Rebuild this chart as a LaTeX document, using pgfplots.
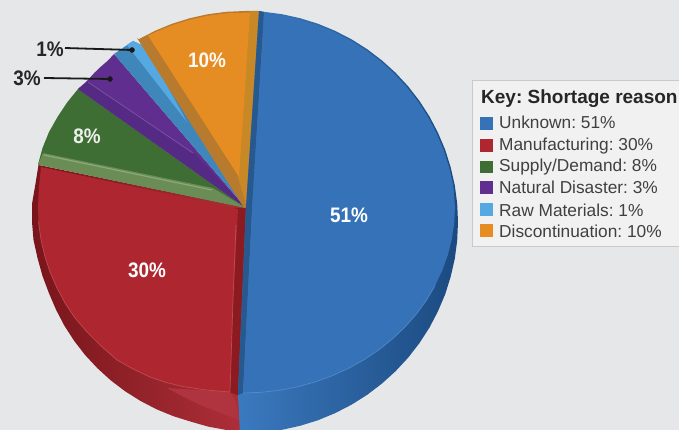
\documentclass[border=0pt]{standalone}
\usepackage{pgfplots}
\pgfplotsset{compat=1.18}
\usepackage{fontspec}
\setmainfont{Liberation Sans}
\frenchspacing
\definecolor{bg}{HTML}{E6E7E9}
\definecolor{boxf}{HTML}{F1F1F1}
\definecolor{boxd}{HTML}{C9CACC}
\definecolor{blu}{HTML}{3672B8}
\definecolor{bluS}{HTML}{27598F}
\definecolor{bluL}{HTML}{3B79BF}
\definecolor{bluM}{HTML}{3570B3}
\definecolor{bluD}{HTML}{1B4A80}
\definecolor{bluH}{HTML}{5F96D2}
\definecolor{red}{HTML}{AE2730}
\definecolor{redS}{HTML}{8B1B21}
\definecolor{redD}{HTML}{78151B}
\definecolor{redL}{HTML}{AE2F39}
\definecolor{redH}{HTML}{B0343F}
\definecolor{redE}{HTML}{CC5A62}
\definecolor{grn}{HTML}{3F6E35}
\definecolor{grnS}{HTML}{6A8C55}
\definecolor{grnH}{HTML}{9BB48D}
\definecolor{pur}{HTML}{5F2E8E}
\definecolor{purS}{HTML}{552A85}
\definecolor{purH}{HTML}{8357A9}
\definecolor{sky}{HTML}{3F87BB}
\definecolor{skyL}{HTML}{56A8E0}
\definecolor{org}{HTML}{E58D23}
\definecolor{orgS}{HTML}{B87A2C}
\definecolor{orgR}{HTML}{C98826}
\newcommand{\lbl}[2]{\fontsize{#1}{#1}\selectfont\bfseries\scalebox{.9}[1]{#2}}
\begin{document}
\begin{tikzpicture}
\begin{axis}[
  scale only axis, width=679pt, height=430pt,
  xmin=0, xmax=679, ymin=0, ymax=430, y dir=reverse,
  hide axis, clip=true]
% background
\addplot[draw=none, fill=bg] coordinates {(0,0)(679,0)(679,430)(0,430)} -- cycle;
% legend box
\addplot[draw=boxd, fill=boxf, line width=.8pt] coordinates {(472.5,80)(690,80)(690,246)(472.5,246)} -- cycle;
% red: 30%
\addplot[draw=none, left color=redD, right color=redL] coordinates {(38.5,165)(35.2,185.4)(32,204)(32,222)(33.5,240)(37.5,258)(42.5,276)(48.8,292.8)(55.9,309.4)(64.2,325.4)(74,340.6)(85,354.9)(97.4,368.2)(110.8,380.4)(125.2,391.3)(140.6,401)(156.8,409.4)(173.7,416.3)(191,421.7)(208.6,426.7)(226.6,430)(240,434)(240,395)(247,208)} -- cycle;
\addplot[draw=none, fill=redH] coordinates {(167,388)(230,392)(236,402)(239,420)(200,405)(180,395)} -- cycle;
\addplot[draw=none, fill=redS] coordinates {(234,208)(248,208)(240,396)(229,392)} -- cycle;
\addplot[draw=none, fill=red] coordinates {(41,167)(39,187)(38,207)(38.5,222)(41,240)(45,257)(50,272)(57,288)(65,303)(75,318)(87,332)(100,345)(117,360)(133,369)(150,377)(166,382.5)(183,386.5)(206,390)(230,392)(233,300)(238,209)} -- cycle;
\addplot[draw=redE, line width=.7pt, opacity=.7] coordinates {(38.5,222)(41,240)(45,257)(50,272)(57,288)(65,303)(75,318)(87,332)(100,345)(117,360)(133,369)(150,377)(166,382.5)(183,386.5)(206,390)(230,392)(233,300)(236,225)};
% green: 8%
\addplot[draw=none, fill=grn] coordinates {(78,89)(67.5,102)(57.5,117)(49,132)(42.5,148)(38,164.5)(246,208)} -- cycle;
\addplot[draw=none, fill=grnS] coordinates {(43,153)(213,188)(246,208)(38,164.5)} -- cycle;
\addplot[draw=grnH, line width=1.2pt, opacity=.7] coordinates {(44,155)(212,190)};
% purple: 3%
\addplot[draw=none, fill=pur] coordinates {(78,89)(86,82)(94.4,72.8)(100.5,67)(108.1,60.4)(114,54)(246,208)} -- cycle;
\addplot[draw=none, fill=purS] coordinates {(78,89)(88,81)(195,154)(246,208)} -- cycle;
\addplot[draw=purH, line width=.9pt, opacity=.8] coordinates {(88,82)(193,153)};
% raw materials: 1%
\addplot[draw=none, fill=sky] coordinates {(114,54)(133,41)(146,47)(246,208)} -- cycle;
\addplot[draw=none, fill=skyL] coordinates {(127,45)(133,41)(146,47)(187,122)} -- cycle;
% orange: 10%
\addplot[draw=none, fill=orgS] coordinates {(137,38)(138.5,39.3)(155,30.8)(172.2,23.7)(189.9,18.2)(208,14.2)(226.4,11.8)(245,11)(259,11)(247,208)(244,208)} -- cycle;
\addplot[draw=none, fill=orgR] coordinates {(250,11.5)(259,11.5)(247,208)(238,177)} -- cycle;
\addplot[draw=none, fill=org] coordinates {(148,35.5)(155.6,32.1)(172.7,25.1)(190.3,19.6)(208.3,15.7)(226.5,13.3)(250,12.5)(239,177)} -- cycle;
% blue: 51%
\addplot[draw=none, left color=bluL, middle color=bluM, right color=bluD] coordinates {(259,11)(263.6,11.8)(282,14.2)(300.1,18.2)(317.8,23.7)(335,30.8)(351.5,39.3)(367.2,49.2)(381.9,60.4)(395.6,72.8)(408.2,86.4)(419.5,101)(429.5,116.5)(438,132.8)(445.2,149.8)(450.7,167.4)(454.8,185.4)(457.2,203.6)(458,222)(457.2,240.4)(454.8,258.6)(450.7,276.6)(445.2,294.2)(438,311.2)(429.5,327.5)(419.5,343)(408.2,357.6)(395.6,371.2)(381.9,383.6)(367.2,394.8)(351.5,404.7)(335,413.2)(317.8,420.3)(300.1,425.8)(282,429.8)(263.6,432.2)(240,434)(238,395)(246,207)} -- cycle;
\addplot[draw=none, fill=bluS] coordinates {(259,11)(264,12)(252,210)(243,393)(238,395)(246,207)} -- cycle;
\addplot[draw=none, fill=blu] coordinates {(264,13)(281.7,15.7)(299.7,19.6)(317.3,25.1)(334.4,32.1)(350.8,40.6)(366.3,50.4)(380.9,61.5)(394.5,73.8)(407,87.4)(418.3,101.9)(428.2,117.2)(436.6,133.4)(443.8,150.3)(449.3,167.8)(453.3,185.7)(455,207)(454.2,223.2)(451.8,239.3)(447.8,255.1)(442.2,270.6)(435.1,285.6)(426.6,300)(416.7,313.7)(405.4,326.6)(392.9,338.5)(379.3,349.5)(364.6,359.4)(349,368.1)(332.6,375.6)(315.5,381.8)(297.9,386.7)(279.8,390.2)(261.5,392.3)(243,393)(252,210)} -- cycle;
\addplot[draw=bluH, line width=.7pt, opacity=.7] coordinates {(243,393)(261.5,392.3)(279.8,390.2)(297.9,386.7)(315.5,381.8)(332.6,375.6)(349,368.1)(364.6,359.4)(379.3,349.5)(392.9,338.5)(405.4,326.6)(416.7,313.7)(426.6,300)(435.1,285.6)};
% leader lines
\addplot[draw=black!90, line width=1.8pt] coordinates {(65,48)(132,50)};
\addplot[draw=black!90, line width=1.8pt] coordinates {(44,78)(110,79)};
\addplot[only marks, mark=*, mark size=2.5pt, black!90] coordinates {(132,50)(110,79)};
% legend swatches
\addplot[draw=none, fill=blu] coordinates {(480,117)(493,117)(493,130)(480,130)} -- cycle;
\addplot[draw=none, fill=red] coordinates {(480,139)(493,139)(493,152)(480,152)} -- cycle;
\addplot[draw=none, fill=grn] coordinates {(480,161)(493,161)(493,173)(480,173)} -- cycle;
\addplot[draw=none, fill=pur] coordinates {(480,181)(493,181)(493,194)(480,194)} -- cycle;
\addplot[draw=none, fill=skyL] coordinates {(480,203)(493,203)(493,216)(480,216)} -- cycle;
\addplot[draw=none, fill=org] coordinates {(480,224)(493,224)(493,237)(480,237)} -- cycle;
% value labels
\node[white, inner sep=0pt] at (axis cs:349,215) {\lbl{21}{51\%}};
\node[white, inner sep=0pt] at (axis cs:147,270) {\lbl{21}{30\%}};
\node[white!90!grn, inner sep=0pt] at (axis cs:87,136) {\lbl{21}{8\%}};
\node[white!95!org, inner sep=0pt] at (axis cs:207,60) {\lbl{21}{10\%}};
\node[black!85, inner sep=0pt] at (axis cs:50,49) {\lbl{21}{1\%}};
\node[black!85, inner sep=0pt] at (axis cs:27,78) {\lbl{21}{3\%}};
% legend text
\node[anchor=base west, inner sep=0pt, black!85] at (axis cs:481,104) {\fontsize{19}{19}\selectfont\bfseries Key: Shortage reason};
\node[anchor=base west, inner sep=0pt, black!75] at (axis cs:499,129) {\fontsize{17.3}{17.3}\selectfont Unknown: 51\%};
\node[anchor=base west, inner sep=0pt, black!75] at (axis cs:499,151) {\fontsize{17.3}{17.3}\selectfont Manufacturing: 30\%};
\node[anchor=base west, inner sep=0pt, black!75] at (axis cs:499,172) {\fontsize{17.3}{17.3}\selectfont Supply/Demand: 8\%};
\node[anchor=base west, inner sep=0pt, black!75] at (axis cs:499,194) {\fontsize{17.3}{17.3}\selectfont Natural Disaster: 3\%};
\node[anchor=base west, inner sep=0pt, black!75] at (axis cs:499,216) {\fontsize{17.3}{17.3}\selectfont Raw Materials: 1\%};
\node[anchor=base west, inner sep=0pt, black!75] at (axis cs:499,237) {\fontsize{17.3}{17.3}\selectfont Discontinuation: 10\%};
\end{axis}
\end{tikzpicture}
\end{document}
